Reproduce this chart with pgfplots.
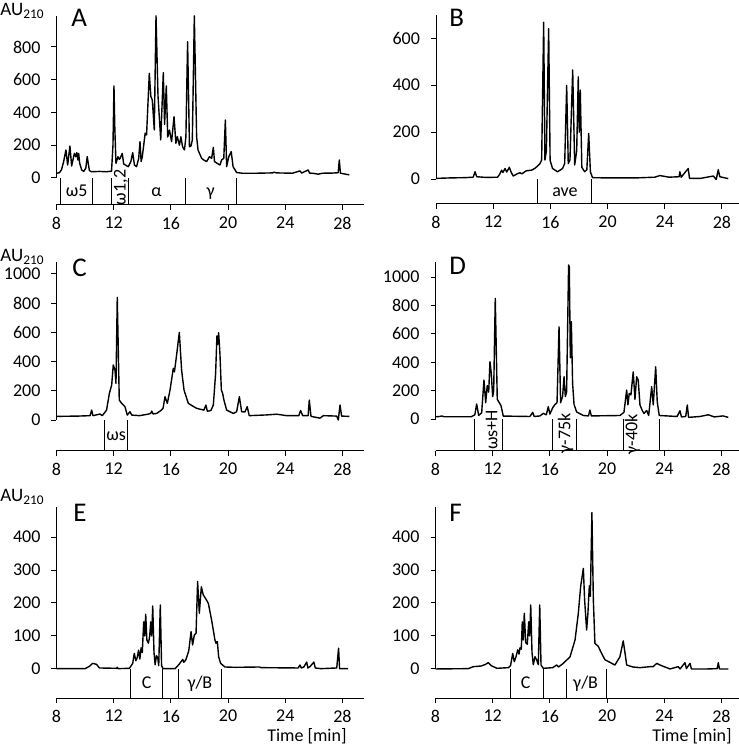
\documentclass[border=0pt]{standalone}
\usepackage{fontspec}
\setmainfont{Carlito}
\usepackage{pgfplots}
\pgfplotsset{compat=1.18}
\pgfplotsset{
  chrom/.style={
    scale only axis, anchor=south west,
    xmin=8, xmax=29.5,
    axis x line*=bottom, axis y line*=left,
    axis line style={-, black, line width=0.5pt},
    y axis line style={draw=none},
    xtick={8,12,...,28},
    tick align=outside, major tick length=2.5pt,
    tick style={black, line width=0.5pt},
    minor tick num=0,
    ticklabel style={font=\fontsize{9}{10}\selectfont},
    yticklabel style={xshift=-2pt},
    /pgf/number format/assume math mode=true,
    /pgf/number format/1000 sep={},
    clip=false,
    no markers,
    cycle list={{black, line width=0.7pt, line join=round}},
  },
}
\tikzset{
  axl/.style={black, line width=0.5pt},
  lab/.style={font=\fontsize{9}{10}\selectfont, inner sep=0pt},
  tr/.style={black, line width=0.7pt, mark=none, line join=round},
}
\begin{document}
\begin{tikzpicture}
\path[use as bounding box] (0,0) rectangle (369.5pt,372.5pt);

% ---------------- A ----------------
\begin{axis}[chrom, at={(28.25pt,270pt)}, width=153.7pt, height=94.5pt,
  ymin=-165, ymax=989, ytick={0,200,...,800}]
\addplot[tr] coordinates {(8.0,29) (8.2,32) (8.35,50) (8.5,100) (8.66,171) (8.78,79) (8.94,195) (9.06,73) (9.15,110) (9.25,150) (9.35,130) (9.42,155) (9.5,110) (9.55,150) (9.62,90) (9.76,49) (9.9,40) (10.05,60) (10.15,130) (10.3,45) (10.45,38) (11.0,40) (11.5,38) (11.85,42) (11.95,200) (12.02,562) (12.08,300) (12.16,89) (12.3,130) (12.4,114) (12.45,120) (12.6,150) (12.7,85) (13.02,69) (13.2,100) (13.33,155) (13.45,79) (13.6,69) (13.75,120) (13.84,222) (13.92,100) (14.0,130) (14.1,200) (14.2,273) (14.3,263) (14.49,639) (14.6,497) (14.7,476) (14.84,293) (14.96,990) (15.1,500) (15.29,232) (15.47,643) (15.56,327) (15.68,562) (15.78,250) (15.9,293) (16.05,222) (16.22,374) (16.35,212) (16.45,252) (16.6,200) (16.7,252) (16.82,190) (16.95,171) (17.05,250) (17.17,832) (17.3,190) (17.4,195) (17.5,230) (17.64,990) (17.8,252) (17.9,171) (18.15,120) (18.3,110) (18.5,100) (18.7,130) (18.85,120) (18.97,187) (19.05,100) (19.43,79) (19.55,110) (19.7,120) (19.81,354) (19.9,69) (20.05,130) (20.22,161) (20.35,69) (20.6,33) (21.0,29) (22,29) (23.1,31) (23.2,35) (23.4,31) (24.5,29) (25.03,43) (25.15,30) (25.6,49) (25.7,30) (26.0,28) (26.3,23) (26.6,29) (27.3,30) (27.7,32) (27.78,110) (27.86,29) (28.48,19)};
\draw[axl] (axis cs:8,0) -- (axis cs:8,989);
\draw[axl] (axis cs:8.29,0) -- (axis cs:8.29,-165);
\draw[axl] (axis cs:10.5,0) -- (axis cs:10.5,-165);
\draw[axl] (axis cs:11.86,0) -- (axis cs:11.86,-165);
\draw[axl] (axis cs:13.07,0) -- (axis cs:13.07,-165);
\draw[axl] (axis cs:17.03,0) -- (axis cs:17.03,-165);
\draw[axl] (axis cs:20.6,0) -- (axis cs:20.6,-165);
\node[lab, anchor=base] at (axis cs:9.41,-114) {ω5};
\node[lab, rotate=90, anchor=center] at (axis cs:12.5,-58) {ω1,2};
\node[lab, anchor=base] at (axis cs:15.0,-114) {α};
\node[lab, anchor=base] at (axis cs:18.78,-114) {γ};
\end{axis}

% ---------------- B ----------------
\begin{axis}[chrom, at={(218pt,270.5pt)}, width=153.7pt, height=94.5pt,
  ymin=-106, ymax=698, ytick={0,200,400,600}]
\addplot[tr] coordinates {(8,3) (9,5) (10,6) (10.6,8) (10.73,31) (10.85,10) (11.5,7) (12.3,8) (12.45,20) (12.59,38) (12.68,28) (12.83,45) (12.95,30) (13.13,50) (13.25,30) (13.4,13) (13.7,23) (13.88,27) (14.0,22) (14.3,35) (14.69,38) (14.9,45) (15.1,55) (15.27,66) (15.39,81) (15.53,667) (15.62,81) (15.72,120) (15.88,640) (15.98,80) (16.15,45) (16.5,31) (16.85,45) (17.0,66) (17.14,398) (17.25,66) (17.37,82) (17.56,464) (17.7,60) (17.84,120) (17.95,435) (18.02,200) (18.09,379) (18.2,50) (18.4,31) (18.55,40) (18.68,194) (18.8,30) (18.95,6) (20,5) (22,5) (23.3,8) (23.66,15) (24.3,8) (25.0,10) (25.06,31) (25.15,8) (25.64,45) (25.73,3) (26.5,3) (27.4,13) (27.6,-2) (27.74,40) (27.85,10) (28.44,2)};
\draw[axl] (axis cs:8,0) -- (axis cs:8,698);
\draw[axl] (axis cs:15.09,0) -- (axis cs:15.09,-106);
\draw[axl] (axis cs:18.91,0) -- (axis cs:18.91,-106);
\node[lab, anchor=base] at (axis cs:17.02,-75) {ave};
\end{axis}

% ---------------- C ----------------
\begin{axis}[chrom, at={(28.25pt,147pt)}, width=153.7pt, height=94.5pt,
  ymin=-212, ymax=1082, ytick={0,200,...,1000}]
\addplot[tr] coordinates {(8,25) (9.5,27) (10.35,30) (10.46,68) (10.55,30) (11.04,41) (11.2,30) (11.5,68) (11.7,183) (11.86,240) (11.97,377) (12.09,342) (12.16,251) (12.25,840) (12.39,137) (12.56,114) (12.79,91) (12.95,34) (13.14,57) (13.26,34) (13.8,30) (14.4,40) (14.58,45) (14.66,61) (14.75,42) (15.0,45) (15.3,65) (15.45,80) (15.59,160) (15.75,114) (15.94,205) (16.17,354) (16.25,330) (16.4,445) (16.59,600) (16.75,342) (16.92,205) (17.22,114) (17.8,80) (18.31,68) (18.45,103) (18.55,60) (18.8,65) (18.97,103) (19.13,320) (19.22,575) (19.28,520) (19.34,598) (19.43,457) (19.53,205) (19.62,183) (19.71,137) (19.9,68) (20.37,45) (20.6,57) (20.79,160) (20.95,57) (21.18,55) (21.34,91) (21.48,30) (22.7,35) (23.4,40) (24.1,30) (24.95,30) (25.07,65) (25.22,30) (25.6,30) (25.68,137) (25.8,25) (26.43,13) (26.66,30) (27.6,27) (27.71,0) (27.83,103) (27.94,27) (28.48,25)};
\draw[axl] (axis cs:8,0) -- (axis cs:8,1082);
\draw[axl] (axis cs:11.39,0) -- (axis cs:11.39,-212);
\draw[axl] (axis cs:12.95,0) -- (axis cs:12.95,-212);
\node[lab, anchor=base] at (axis cs:12.17,-142) {ωs};
\end{axis}

% ---------------- D ----------------
\begin{axis}[chrom, at={(217.75pt,147pt)}, width=153.7pt, height=94.5pt,
  ymin=-225, ymax=1106, ytick={0,200,...,1000}]
\addplot[tr] coordinates {(8,16) (8.3,18) (8.43,22) (8.6,16) (10.5,16) (10.75,30) (10.88,106) (11.02,25) (11.23,45) (11.39,275) (11.51,115) (11.62,236) (11.72,190) (11.81,404) (11.9,322) (12.0,158) (12.07,200) (12.18,850) (12.32,139) (12.46,115) (12.58,95) (12.74,21) (14.6,18) (14.8,47) (14.9,18) (15.31,22) (15.54,40) (15.75,30) (15.89,87) (16.0,35) (16.2,80) (16.36,103) (16.5,115) (16.64,650) (16.75,115) (16.89,160) (16.99,298) (17.08,158) (17.17,190) (17.31,1085) (17.36,1070) (17.43,431) (17.5,685) (17.59,250) (17.69,103) (17.87,50) (18.34,25) (18.7,22) (18.8,63) (18.9,22) (20.9,25) (21.18,47) (21.37,204) (21.46,100) (21.55,180) (21.67,170) (21.83,333) (21.95,139) (22.07,298) (22.18,274) (22.3,100) (22.46,60) (22.58,40) (22.77,60) (22.91,25) (23.12,228) (23.23,100) (23.4,368) (23.51,120) (23.65,25) (24.9,18) (25.1,58) (25.2,15) (25.5,18) (25.61,99) (25.7,12) (26.5,18) (27.08,30) (27.5,15) (28.1,22) (28.48,12)};
\draw[axl] (axis cs:8,0) -- (axis cs:8,1106);
\draw[axl] (axis cs:10.76,0) -- (axis cs:10.76,-225);
\draw[axl] (axis cs:12.7,0) -- (axis cs:12.7,-225);
\draw[axl] (axis cs:16.2,0) -- (axis cs:16.2,-225);
\draw[axl] (axis cs:17.87,0) -- (axis cs:17.87,-225);
\draw[axl] (axis cs:21.13,0) -- (axis cs:21.13,-225);
\draw[axl] (axis cs:23.65,0) -- (axis cs:23.65,-225);
\node[lab, rotate=90, anchor=center] at (axis cs:11.93,-77) {ωs+H};
\node[lab, rotate=90, anchor=center] at (axis cs:17.1,-101) {γ-75k};
\node[lab, rotate=90, anchor=center] at (axis cs:21.78,-106) {γ-40k};
\end{axis}

% ---------------- E ----------------
\begin{axis}[chrom, at={(28.25pt,23.5pt)}, width=153.7pt, height=95.5pt,
  ymin=-88, ymax=491, ytick={0,100,...,400}]
\addplot[tr] coordinates {(8,1) (10.0,1) (10.3,8) (10.53,17) (10.8,14) (11.0,3) (12.2,2) (12.25,5) (12.3,1) (13.1,2) (13.33,17) (13.44,47) (13.55,25) (13.65,35) (13.74,57) (13.83,30) (13.92,64) (14.0,50) (14.1,143) (14.17,100) (14.24,166) (14.32,88) (14.43,78) (14.52,100) (14.59,143) (14.66,100) (14.73,191) (14.82,50) (14.9,13) (14.99,40) (15.08,35) (15.15,10) (15.26,194) (15.35,10) (15.45,1) (16.3,1) (16.53,12) (16.64,18) (16.83,29) (16.9,20) (17.05,28) (17.25,55) (17.41,113) (17.52,73) (17.64,103) (17.76,108) (17.87,265) (17.99,169) (18.13,249) (18.27,224) (18.45,212) (18.62,199) (18.85,148) (19.08,88) (19.15,78) (19.25,83) (19.34,37) (19.48,17) (19.78,6) (20.5,5) (22.2,6) (22.3,4) (24.9,3) (25.03,12) (25.12,3) (25.3,6) (25.5,21) (25.58,3) (25.75,8) (26.0,21) (26.1,3) (26.5,1) (27.6,3) (27.73,63) (27.8,1) (28.4,1)};
\draw[axl] (axis cs:8,0) -- (axis cs:8,491);
\draw[axl] (axis cs:13.21,0) -- (axis cs:13.21,-88);
\draw[axl] (axis cs:15.4,0) -- (axis cs:15.4,-88);
\draw[axl] (axis cs:16.52,0) -- (axis cs:16.52,-88);
\draw[axl] (axis cs:19.55,0) -- (axis cs:19.55,-88);
\node[lab, anchor=base] at (axis cs:14.3,-58) {C};
\node[lab, anchor=base] at (axis cs:18.03,-58) {γ/B};
\end{axis}

% ---------------- F ----------------
\begin{axis}[chrom, at={(217.75pt,23.5pt)}, width=153.7pt, height=95.5pt,
  ymin=-88, ymax=491, ytick={0,100,...,400}]
\addplot[tr] coordinates {(8,0) (10.3,1) (10.64,7) (11.2,9) (11.5,14) (11.69,19) (11.9,10) (12.3,2) (13.1,4) (13.25,10) (13.4,47) (13.51,22) (13.63,37) (13.75,58) (13.84,45) (13.91,64) (14.0,60) (14.07,143) (14.14,88) (14.21,169) (14.31,80) (14.42,75) (14.52,143) (14.59,100) (14.66,194) (14.75,50) (14.84,13) (14.96,37) (15.08,27) (15.19,13) (15.29,194) (15.38,12) (15.54,2) (16.2,4) (16.47,12) (16.6,6) (16.94,17) (17.41,37) (17.76,88) (17.99,169) (18.15,249) (18.34,305) (18.43,209) (18.57,118) (18.66,169) (18.76,252) (18.83,220) (18.94,474) (19.04,209) (19.15,78) (19.39,68) (19.62,47) (19.85,28) (20.2,20) (20.55,12) (20.9,37) (21.13,85) (21.25,50) (21.37,12) (21.8,6) (22.3,4) (23.0,7) (23.23,7) (23.47,17) (23.7,12) (24.4,0) (24.98,7) (25.1,0) (25.45,19) (25.55,1) (25.8,17) (25.9,0) (27.0,0) (27.7,1) (27.78,19) (27.86,0) (28.48,0)};
\draw[axl] (axis cs:8,0) -- (axis cs:8,491);
\draw[axl] (axis cs:13.26,0) -- (axis cs:13.26,-88);
\draw[axl] (axis cs:15.54,0) -- (axis cs:15.54,-88);
\draw[axl] (axis cs:17.17,0) -- (axis cs:17.17,-88);
\draw[axl] (axis cs:19.97,0) -- (axis cs:19.97,-88);
\node[lab, anchor=base] at (axis cs:14.3,-58) {C};
\node[lab, anchor=base] at (axis cs:18.5,-58) {γ/B};
\end{axis}

% ------------- global labels -------------
\begin{scope}[every node/.style={inner sep=0pt}]
\node[anchor=base west, font=\fontsize{9.5}{10}\selectfont] at (0pt,364.5pt) {AU\textsubscript{210}};
\node[anchor=base west, font=\fontsize{9.5}{10}\selectfont] at (0pt,241.5pt) {AU\textsubscript{210}};
\node[anchor=base west, font=\fontsize{9.5}{10}\selectfont] at (0pt,121.5pt) {AU\textsubscript{210}};
\node[anchor=base west, font=\fontsize{13.5}{14}\selectfont] at (35.5pt,359pt) {A};
\node[anchor=base west, font=\fontsize{13.5}{14}\selectfont] at (224.5pt,359pt) {B};
\node[anchor=base west, font=\fontsize{13.5}{14}\selectfont] at (36pt,234pt) {C};
\node[anchor=base west, font=\fontsize{13.5}{14}\selectfont] at (224.5pt,235pt) {D};
\node[anchor=base west, font=\fontsize{13.5}{14}\selectfont] at (36.5pt,111.5pt) {E};
\node[anchor=base west, font=\fontsize{13.5}{14}\selectfont] at (224.5pt,111.5pt) {F};
\node[anchor=base east, font=\fontsize{9}{10}\selectfont] at (173.5pt,1.8pt) {Time [min]};
\node[anchor=base east, font=\fontsize{9}{10}\selectfont] at (366pt,1.8pt) {Time [min]};
\end{scope}
\end{tikzpicture}
\end{document}
